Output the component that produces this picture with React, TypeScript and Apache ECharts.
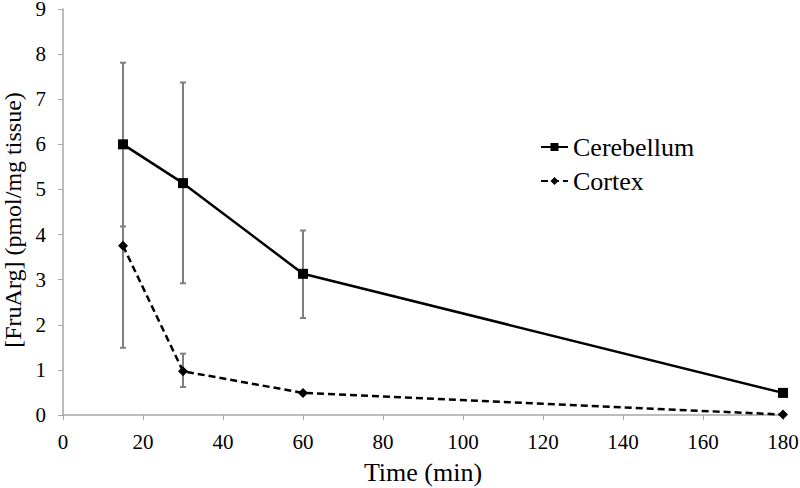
import React, { useEffect, useRef } from "react";
import * as echarts from "echarts";

const timePoints = [15, 30, 60, 180];
const cerebellum = [6.0, 5.14, 3.13, 0.49];
const cerebellumLow = [4.18, 2.92, 2.15, 0.49];
const cerebellumHigh = [7.81, 7.37, 4.09, 0.49];
const cortex = [3.75, 0.97, 0.49, 0.01];
const cortexLow = [1.49, 0.62, 0.49, 0.01];
const cortexHigh = [6.0, 1.36, 0.49, 0.01];
const xTicks = [0, 20, 40, 60, 80, 100, 120, 140, 160, 180];
const yTicks = [0, 1, 2, 3, 4, 5, 6, 7, 8, 9];

const FONT = "'Liberation Serif', 'DejaVu Serif', serif";

export default function App() {
  const ref = useRef<HTMLDivElement>(null);
  useEffect(() => {
    if (!ref.current) return;
    document.body.style.margin = "0";
    document.body.style.overflow = "hidden";
    const chart = echarts.init(ref.current, undefined, { renderer: "svg", width: 800, height: 488 });
    const errData = [
      ...timePoints.map((t, i) => [t, cerebellumLow[i], cerebellumHigh[i]]),
      ...timePoints.map((t, i) => [t, cortexLow[i], cortexHigh[i]]),
    ].filter((d) => d[2] - d[1] > 0.01);
    const renderErr = (params: any, api: any) => {
      const x = api.value(0);
      const lo = api.coord([x, api.value(1)]);
      const hi = api.coord([x, api.value(2)]);
      const hw = 3;
      const style = { stroke: "#7f7f7f", lineWidth: 2 };
      return {
        type: "group",
        children: [
          { type: "line", shape: { x1: lo[0], y1: lo[1], x2: hi[0], y2: hi[1] }, style },
          { type: "line", shape: { x1: lo[0] - hw, y1: lo[1], x2: lo[0] + hw, y2: lo[1] }, style },
          { type: "line", shape: { x1: hi[0] - hw, y1: hi[1], x2: hi[0] + hw, y2: hi[1] }, style },
        ],
      };
    };
    chart.setOption({
      animation: false,
      backgroundColor: "#ffffff",
      grid: {
        left: 63,
        right: 17,
        top: 9,
        bottom: 73,
        containLabel: false,
        outerBoundsMode: "none",
      },
      legend: {
        orient: "vertical",
        left: 540,
        top: 134,
        padding: 0,
        itemWidth: 27,
        itemHeight: 10,
        itemGap: 8,
        data: ["Cerebellum", "Cortex"],
        textStyle: { fontFamily: FONT, fontSize: 26, color: "#000" },
      },
      xAxis: {
        type: "value",
        min: 0,
        max: 180,
        interval: 20,
        name: "Time (min)",
        nameLocation: "middle",
        nameGap: 44,
        nameTextStyle: { fontFamily: FONT, fontSize: 26, color: "#000" },
        axisLine: { lineStyle: { color: "#a6a6a6", width: 1.5 } },
        axisTick: { show: true, length: 5, lineStyle: { color: "#a6a6a6" } },
        axisLabel: {
          fontFamily: FONT,
          fontSize: 21,
          color: "#000",
          margin: 16,
          formatter: (v: number) => (xTicks.includes(v) ? String(v) : ""),
        },
        splitLine: { show: false },
      },
      yAxis: {
        type: "value",
        min: 0,
        max: 9,
        interval: 1,
        name: "[FruArg] (pmol/mg tissue)",
        nameLocation: "middle",
        nameGap: 37,
        nameTextStyle: {
          fontFamily: FONT,
          fontSize: 24,
          lineHeight: 22,
          color: "#000",
          padding: [0, 16, 0, 0],
        },
        axisLine: { show: true, lineStyle: { color: "#a6a6a6", width: 1.5 } },
        axisTick: { show: true, length: 5, lineStyle: { color: "#a6a6a6" } },
        axisLabel: {
          fontFamily: FONT,
          fontSize: 21,
          lineHeight: 10,
          padding: [6, 0, 0, 0],
          color: "#000",
          margin: 17,
          formatter: (v: number) => (yTicks.includes(v) ? String(v) : ""),
        },
        splitLine: { show: false },
      },
      series: [
        {
          type: "custom",
          name: "err",
          renderItem: renderErr,
          data: errData,
          z: 1,
          silent: true,
        },
        {
          type: "line",
          name: "Cerebellum",
          data: timePoints.map((t, i) => [t, cerebellum[i]]),
          symbol: "rect",
          symbolSize: 10,
          lineStyle: { color: "#000", width: 2.5 },
          itemStyle: { color: "#000" },
          z: 3,
        },
        {
          type: "line",
          name: "Cortex",
          data: timePoints.map((t, i) => [t, cortex[i]]),
          symbol: "diamond",
          symbolSize: 10,
          lineStyle: { color: "#000", width: 2.5, type: [7, 4] },
          itemStyle: { color: "#000" },
          z: 3,
        },
      ],
    });
    return () => chart.dispose();
  }, []);
  return <div ref={ref} style={{ width: 800, height: 488 }} />;
}
